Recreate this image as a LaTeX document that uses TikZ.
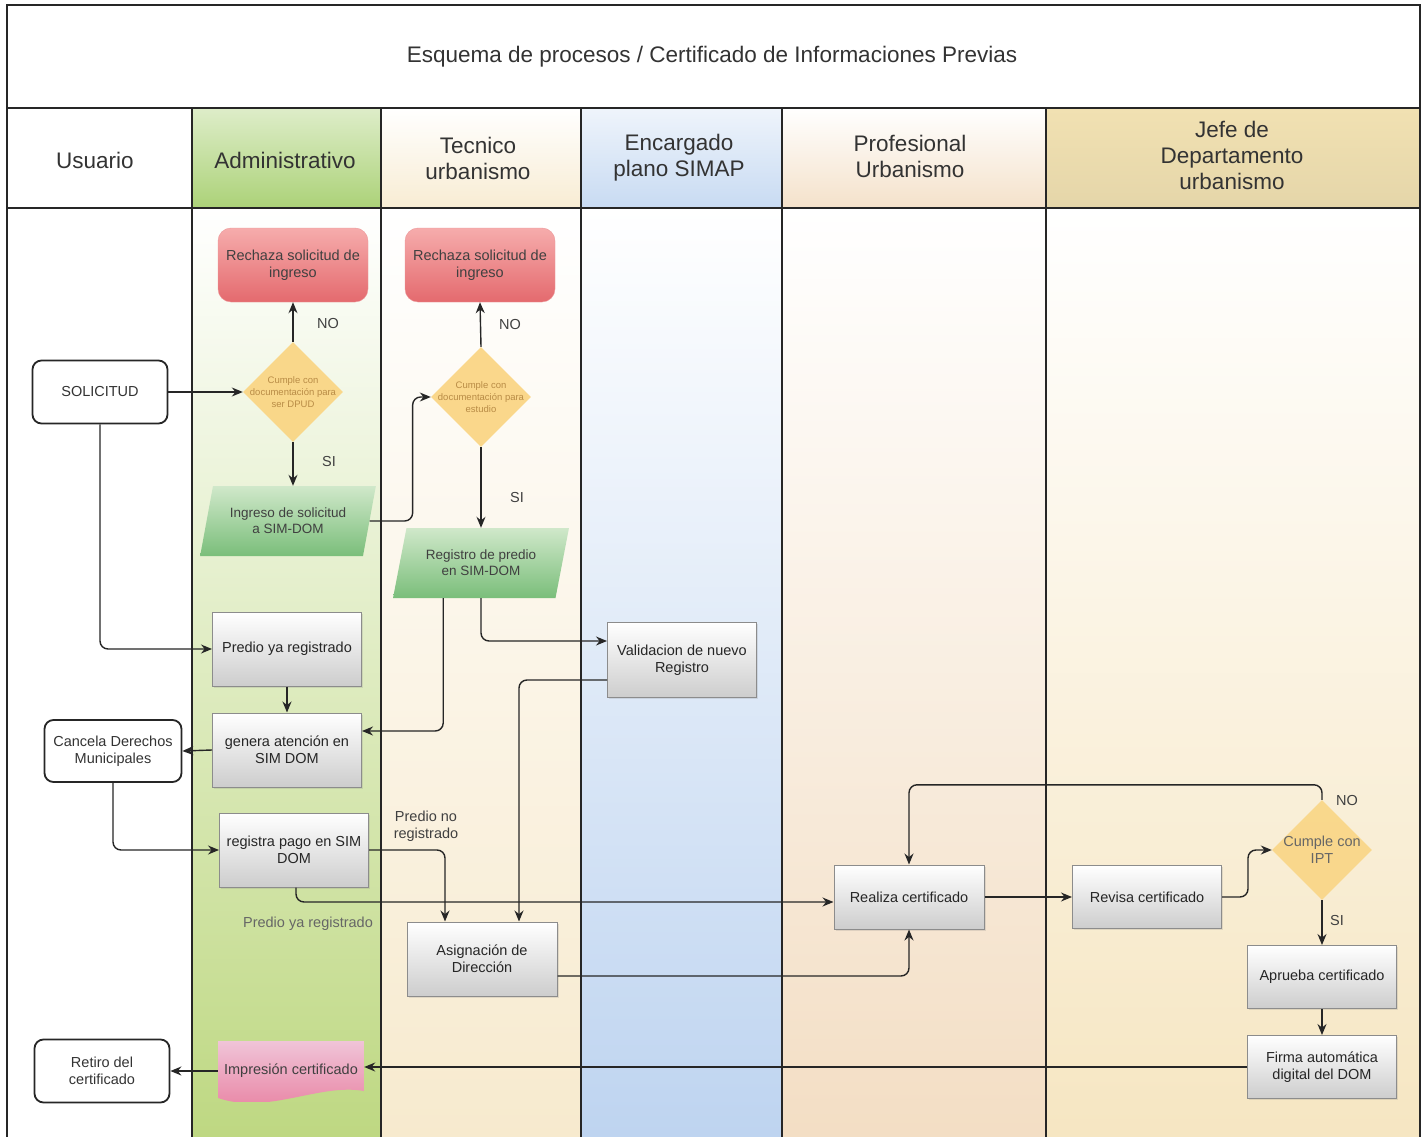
\documentclass[tikz,border=0pt]{standalone}
\usepackage{fontspec}
\setmainfont{Liberation Sans}
\usetikzlibrary{shapes.geometric,arrows.meta,shadows,calc}
\definecolor{admC}{RGB}{190,216,130}
\definecolor{admH}{RGB}{172,210,120}
\definecolor{tecC}{RGB}{247,234,206}
\definecolor{encC}{RGB}{190,212,240}
\definecolor{proC}{RGB}{243,222,196}
\definecolor{jefC}{RGB}{246,230,194}
\definecolor{jefH}{RGB}{241,225,178}
\definecolor{redT}{RGB}{246,172,172}
\definecolor{redB}{RGB}{228,106,110}
\definecolor{grnT}{RGB}{208,232,202}
\definecolor{grnB}{RGB}{122,190,122}
\definecolor{dia}{RGB}{250,212,128}
\definecolor{diatext}{RGB}{185,140,70}
\definecolor{boxgray}{RGB}{205,205,205}
\definecolor{pinkT}{RGB}{240,196,216}
\definecolor{pinkB}{RGB}{232,128,160}
\newcommand{\boxfont}{\fontsize{14.5}{17}\selectfont}
\newcommand{\hdrfont}{\fontsize{22.5}{26}\selectfont}
\begin{document}
\begin{tikzpicture}[x=1pt,y=-1pt,
  frame/.style={line width=2.2pt, draw=black!85},
  hdr/.style={font=\hdrfont, text=black!80, align=center},
  procbox/.style={draw=black!45, line width=1pt, top color=white, bottom color=boxgray,
     minimum width=149pt, minimum height=74pt, align=center, font=\boxfont, text=black!85, inner sep=1pt,
     drop shadow={opacity=0.2, shadow xshift=1.5pt, shadow yshift=-1.5pt}},
  termbox/.style={draw=black!85, line width=1.8pt, rounded corners=9pt, fill=white,
     minimum width=135pt, minimum height=63pt, align=center, font=\boxfont, text=black!80, inner sep=1pt},
  rejbox/.style={rounded corners=13pt, top color=redT, bottom color=redB, draw=redB!70,
     minimum width=150pt, minimum height=74pt, align=center, font=\boxfont, text=black!75, inner sep=1pt},
  iobox/.style={trapezium, trapezium left angle=70, trapezium right angle=110,
     trapezium stretches=true, top color=grnT, bottom color=grnB, inner sep=1pt,
     minimum width=176pt, minimum height=70pt, align=center, font=\fontsize{13.5}{16}\selectfont, text=black!75},
  decision/.style={diamond, minimum width=100pt, minimum height=100pt, inner sep=0pt,
     fill=dia, fill opacity=0.9, text opacity=1},
  dtext/.style={align=center, font=\fontsize{9.5}{12}\selectfont, text=diatext},
  conn/.style={-{Stealth[length=11pt,width=9pt]}, line width=1.4pt, draw=black!85, rounded corners=8pt},
  lbl/.style={font=\boxfont, text=black!75, align=center}
]
\useasboundingbox (0,0) rectangle (1428,1137);
\fill[white] (0,0) rectangle (1428,1137);

% lane bodies
\shade[top color=white, middle color=admC!45, bottom color=admC] (192,208) rectangle (381,1137);
\shade[top color=white, middle color=tecC!55, bottom color=tecC] (381,208) rectangle (581,1137);
\shade[top color=white, middle color=encC!40, bottom color=encC] (581,208) rectangle (782,1137);
\shade[top color=white, middle color=proC!40, bottom color=proC] (782,208) rectangle (1046,1137);
\shade[top color=white, middle color=jefC!45, bottom color=jefC] (1046,208) rectangle (1420,1137);

% header cells
\shade[top color=admH!40, bottom color=admH] (192,108) rectangle (381,208);
\shade[top color=white, bottom color=tecC!90] (381,108) rectangle (581,208);
\shade[top color=encC!25, bottom color=encC!85] (581,108) rectangle (782,208);
\shade[top color=white, bottom color=proC!90] (782,108) rectangle (1046,208);
\shade[top color=jefH, bottom color=jefH!95!black] (1046,108) rectangle (1420,208);

% frame and lane lines
\draw[frame] (7,1137) -- (7,5) -- (1420,5) -- (1420,1137);
\draw[frame] (7,108) -- (1420,108);
\draw[frame] (7,208) -- (1420,208);
\foreach \xx in {192,381,581,782,1046} \draw[frame] (\xx,108) -- (\xx,1137);

% title and headers
\node[hdr] (title) at (712,57) {Esquema de procesos / Certificado de Informaciones Previas};
\node[hdr] (hUsr) at (95,160) {Usuario};
\node[hdr] (hAdm) at (285,160) {Administrativo};
\node[hdr] (hTec) at (478,158) {Tecnico\\urbanismo};
\node[hdr] (hEnc) at (679,158) {Encargado\\plano SIMAP};
\node[hdr] (hPro) at (910,156) {Profesional\\Urbanismo};
\node[hdr] (hJef) at (1232,155) {Jefe de\\Departamento\\urbanismo};

% nodes
\node[rejbox] (rej1) at (293,265) {Rechaza solicitud de\\ingreso};
\node[rejbox] (rej2) at (480,265) {Rechaza solicitud de\\ingreso};
\node[decision, label={[dtext]center:{Cumple con\\documentación para\\ser DPUD}}] (d1) at (293,392) {};
\node[decision, label={[dtext]center:{Cumple con\\documentación para\\estudio}}] (d2) at (481,397) {};
\node[termbox] (sol) at (100,392) {SOLICITUD};
\node[iobox] (ing) at (288,521) {Ingreso de solicitud\\a SIM-DOM};
\node[iobox] (reg) at (481,563) {Registro de predio\\en SIM-DOM};
\node[procbox] (pyr) at (287,649) {Predio ya registrado};
\node[procbox] (gen) at (287,750) {genera atención en\\SIM DOM};
\node[termbox, minimum width=137pt, minimum height=62pt] (canc) at (113,751) {Cancela Derechos\\Municipales};
\node[procbox] (pago) at (294,850) {registra pago en SIM\\DOM};
\node[procbox, minimum height=75pt] (val) at (682,660) {Validacion de nuevo\\Registro};
\node[procbox, minimum width=150pt] (asig) at (482,959) {Asignación de\\Dirección};
\node[procbox, minimum width=150pt, minimum height=64pt] (real) at (909,897) {Realiza certificado};
\node[procbox, minimum height=63pt] (rev) at (1147,897) {Revisa certificado};
\node[decision, fill opacity=0.85, label={[align=center, font=\boxfont, text=black!60]center:{Cumple con\\IPT}}] (ipt) at (1322,850) {};
\node[procbox, minimum height=63pt] (apr) at (1322,977) {Aprueba certificado};
\node[procbox, minimum height=63pt] (firma) at (1322,1067) {Firma automática\\digital del DOM};
\node[minimum width=146pt, minimum height=60pt, font=\boxfont, text=black!75, inner sep=0pt,
  path picture={\shade[top color=pinkT, bottom color=pinkB]
    (path picture bounding box.north west) -- (path picture bounding box.north east)
    -- ([yshift=10pt]path picture bounding box.south east)
    .. controls ([xshift=-45pt,yshift=18pt]path picture bounding box.south east)
    and ([xshift=50pt,yshift=-14pt]path picture bounding box.south west)
    .. ([yshift=3pt]path picture bounding box.south west) -- cycle;}] (imp) at (291,1071) {Impresión certificado};
\node[termbox] (ret) at (102,1071) {Retiro del\\certificado};

% connectors
\draw[conn] (sol.east) -- (d1.west);
\draw[conn] (sol.south) |- (pyr.west);
\draw[conn] (d1.north) -- (rej1.south);
\draw[conn] (d1.south) -- (ing.top side -| d1.south);
\draw[conn] (ing.east) -- ++(43,0) |- (d2.west);
\draw[conn] (d2.north) -- (rej2.south);
\draw[conn] (d2.south) -- (reg.top side -| d2.south);
\draw[conn] (reg.bottom side -| d2.south) |- ([yshift=19pt]val.west);
\draw[conn] ([xshift=-31pt]reg.bottom side) |- ([yshift=19pt]gen.east);
\draw[conn] (pyr.south) -- (gen.north);
\draw[conn] (gen.west) -- (canc.east);
\draw[conn] (canc.south) |- (pago.west);
\draw[conn] ([yshift=-20pt]val.west) -| ([xshift=37pt]asig.north);
\draw[conn] (pago.east) -| ([xshift=-37pt]asig.north);
\draw[conn] ([xshift=2pt]pago.south) |- ([yshift=-5pt]real.west);
\draw[conn] ([yshift=-17pt]asig.east) -| (real.south);
\draw[conn] (real.east) -- (rev.west);
\draw[conn] (rev.east) -- ++(26,0) |- (ipt.west);
\draw[conn] (ipt.north) -- ++(0,-15) -| (real.north);
\draw[conn] (ipt.south) -- (apr.north);
\draw[conn] (apr.south) -- (firma.north);
\draw[conn] (firma.west) -- (firma.west -| imp.east);
\draw[conn] (imp.west) -- (ret.east);

% labels
\node[lbl] (l1) at (328,324) {NO};
\node[lbl] (l2) at (329,462) {SI};
\node[lbl] (l3) at (510,325) {NO};
\node[lbl] (l4) at (517,498) {SI};
\node[lbl] (l5) at (426,826) {Predio no\\registrado};
\node[lbl, text=black!60] (l6) at (308,924) {Predio ya registrado};
\node[lbl] (l7) at (1347,801) {NO};
\node[lbl] (l8) at (1337,921) {SI};
\end{tikzpicture}
\end{document}
